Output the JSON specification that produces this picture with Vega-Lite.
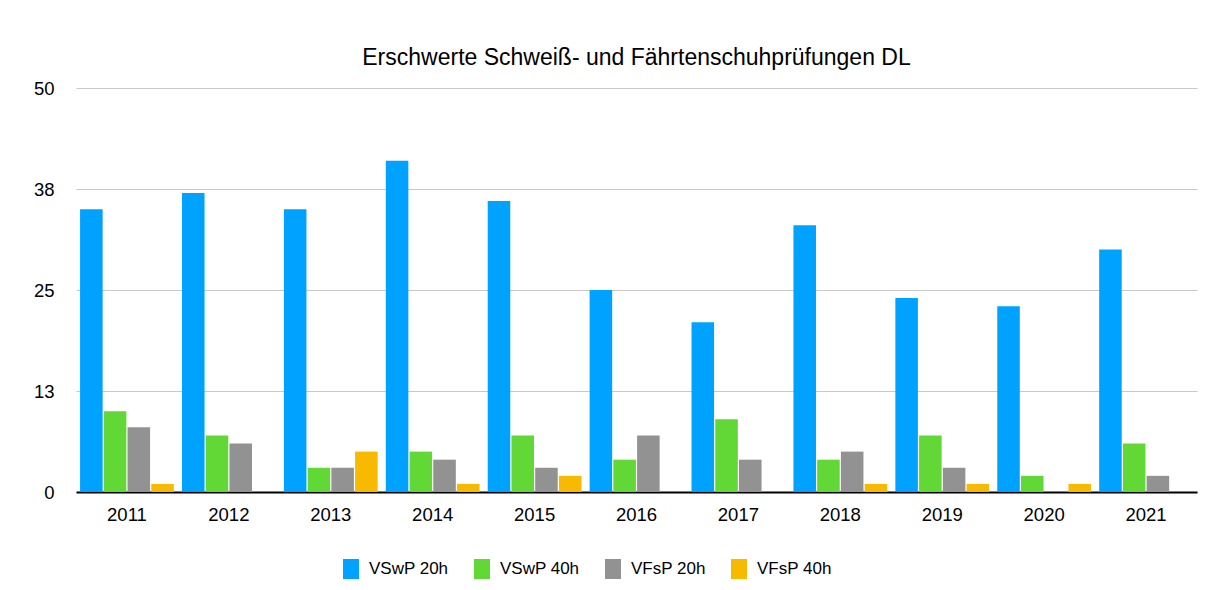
{
  "$schema": "https://vega.github.io/schema/vega-lite/v6.json",
  "width": 1121,
  "height": 404,
  "autosize": {"type": "none"},
  "padding": {"left": 76, "top": 88, "right": 12, "bottom": 98},
  "background": "white",
  "title": {
    "text": "Erschwerte Schweiß- und Fährtenschuhprüfungen DL",
    "font": "Liberation Sans",
    "fontSize": 23,
    "fontWeight": "normal",
    "color": "#000000",
    "anchor": "middle",
    "offset": 9
  },
  "data": {
    "values": [
      {"year": "2011", "series": "VSwP 20h", "value": 35},
      {"year": "2011", "series": "VSwP 40h", "value": 10},
      {"year": "2011", "series": "VFsP 20h", "value": 8},
      {"year": "2011", "series": "VFsP 40h", "value": 1},
      {"year": "2012", "series": "VSwP 20h", "value": 37},
      {"year": "2012", "series": "VSwP 40h", "value": 7},
      {"year": "2012", "series": "VFsP 20h", "value": 6},
      {"year": "2012", "series": "VFsP 40h", "value": 0},
      {"year": "2013", "series": "VSwP 20h", "value": 35},
      {"year": "2013", "series": "VSwP 40h", "value": 3},
      {"year": "2013", "series": "VFsP 20h", "value": 3},
      {"year": "2013", "series": "VFsP 40h", "value": 5},
      {"year": "2014", "series": "VSwP 20h", "value": 41},
      {"year": "2014", "series": "VSwP 40h", "value": 5},
      {"year": "2014", "series": "VFsP 20h", "value": 4},
      {"year": "2014", "series": "VFsP 40h", "value": 1},
      {"year": "2015", "series": "VSwP 20h", "value": 36},
      {"year": "2015", "series": "VSwP 40h", "value": 7},
      {"year": "2015", "series": "VFsP 20h", "value": 3},
      {"year": "2015", "series": "VFsP 40h", "value": 2},
      {"year": "2016", "series": "VSwP 20h", "value": 25},
      {"year": "2016", "series": "VSwP 40h", "value": 4},
      {"year": "2016", "series": "VFsP 20h", "value": 7},
      {"year": "2016", "series": "VFsP 40h", "value": 0},
      {"year": "2017", "series": "VSwP 20h", "value": 21},
      {"year": "2017", "series": "VSwP 40h", "value": 9},
      {"year": "2017", "series": "VFsP 20h", "value": 4},
      {"year": "2017", "series": "VFsP 40h", "value": 0},
      {"year": "2018", "series": "VSwP 20h", "value": 33},
      {"year": "2018", "series": "VSwP 40h", "value": 4},
      {"year": "2018", "series": "VFsP 20h", "value": 5},
      {"year": "2018", "series": "VFsP 40h", "value": 1},
      {"year": "2019", "series": "VSwP 20h", "value": 24},
      {"year": "2019", "series": "VSwP 40h", "value": 7},
      {"year": "2019", "series": "VFsP 20h", "value": 3},
      {"year": "2019", "series": "VFsP 40h", "value": 1},
      {"year": "2020", "series": "VSwP 20h", "value": 23},
      {"year": "2020", "series": "VSwP 40h", "value": 2},
      {"year": "2020", "series": "VFsP 20h", "value": 0},
      {"year": "2020", "series": "VFsP 40h", "value": 1},
      {"year": "2021", "series": "VSwP 20h", "value": 30},
      {"year": "2021", "series": "VSwP 40h", "value": 6},
      {"year": "2021", "series": "VFsP 20h", "value": 2},
      {"year": "2021", "series": "VFsP 40h", "value": 0}
    ]
  },
  "mark": {"type": "bar"},
  "encoding": {
    "x": {
      "field": "year",
      "type": "nominal",
      "scale": {"paddingInner": 0.08, "paddingOuter": 0.04},
      "axis": {
        "title": null,
        "labelAngle": 0,
        "labelFont": "Liberation Sans",
        "labelFontSize": 18.5,
        "labelColor": "#000000",
        "labelPadding": 13,
        "ticks": false,
        "domainColor": "#000000",
        "domainWidth": 2,
        "grid": false
      }
    },
    "xOffset": {
      "field": "series",
      "type": "nominal",
      "sort": ["VSwP 20h", "VSwP 40h", "VFsP 20h", "VFsP 40h"],
      "scale": {"paddingInner": 0.05}
    },
    "y": {
      "field": "value",
      "type": "quantitative",
      "scale": {"domain": [0, 50], "nice": false},
      "axis": {
        "title": null,
        "values": [0, 12.5, 25, 37.5, 50],
        "labelExpr": "format(round(datum.value), 'd')",
        "labelFont": "Liberation Sans",
        "labelFontSize": 18.5,
        "labelColor": "#000000",
        "labelPadding": 22,
        "ticks": false,
        "domain": false,
        "grid": true,
        "gridColor": "#c8c8c8",
        "gridWidth": 1
      }
    },
    "color": {
      "field": "series",
      "type": "nominal",
      "sort": ["VSwP 20h", "VSwP 40h", "VFsP 20h", "VFsP 40h"],
      "scale": {
        "domain": ["VSwP 20h", "VSwP 40h", "VFsP 20h", "VFsP 40h"],
        "range": ["#00A2FF", "#61D836", "#929292", "#F8BA00"]
      },
      "legend": {
        "title": null,
        "orient": "none",
        "legendX": 265,
        "legendY": 471,
        "direction": "horizontal",
        "symbolType": "M-0.8,-1H0.8V1H-0.8Z",
        "symbolSize": 400,
        "symbolStrokeWidth": 0,
        "labelFont": "Liberation Sans",
        "labelFontSize": 17,
        "labelColor": "#000000",
        "labelOffset": 8,
        "columnPadding": 23,
        "padding": 0
      }
    }
  },
  "config": {
    "view": {"stroke": null}
  }
}
